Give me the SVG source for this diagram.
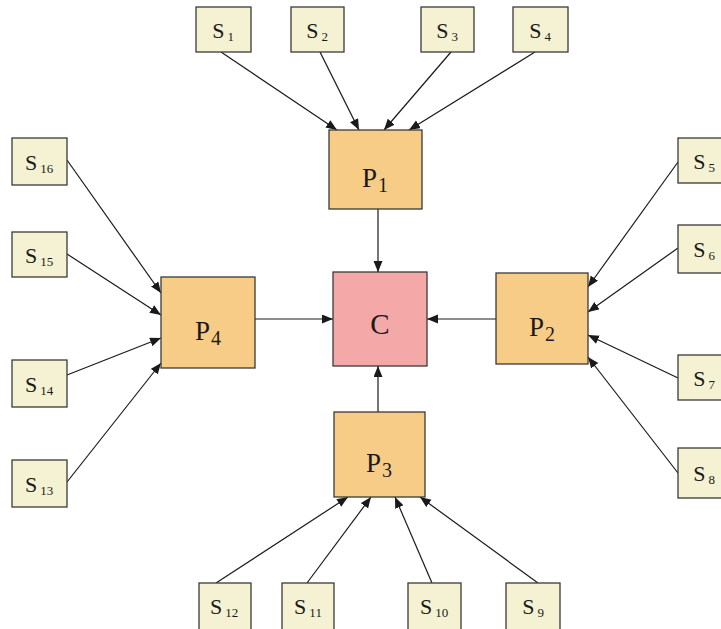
<svg xmlns="http://www.w3.org/2000/svg" width="721" height="629" viewBox="0 0 721 629">
  <style>
    .s rect { fill: #F4F2D2; stroke: #3a3a3a; stroke-width: 1.3; }
    .p rect { fill: #F7CC87; stroke: #3a3a3a; stroke-width: 1.3; }
    .c rect { fill: #F4A9A8; stroke: #3a3a3a; stroke-width: 1.3; }
    text { font-family: "Liberation Serif", "Times New Roman", serif; fill: #1a1a1a; text-anchor: middle; }
    .s text { font-size: 22px; }
    .s .sub { font-size: 13px; }
    .p text { font-size: 27px; }
    .p .sub { font-size: 20px; }
    .c text { font-size: 29px; }
    #connectors line { stroke: #1a1a1a; stroke-width: 1.2; marker-end: url(#arrow); }
  </style>
  <defs>
    <marker id="arrow" markerUnits="userSpaceOnUse" markerWidth="12" markerHeight="10" refX="11" refY="4.5" orient="auto">
      <path d="M0,0 L11,4.5 L0,9 z" fill="#1a1a1a"/>
    </marker>
  </defs>

  <g id="connectors">
    <!-- S1..S4 into P1 -->
    <line x1="221" y1="52" x2="337" y2="130"/>
    <line x1="320" y1="52" x2="359" y2="130"/>
    <line x1="451" y1="52" x2="384" y2="130"/>
    <line x1="535" y1="52" x2="409" y2="130"/>
    <!-- S5..S8 into P2 -->
    <line x1="678" y1="162" x2="588" y2="287"/>
    <line x1="678" y1="248" x2="588" y2="312"/>
    <line x1="678" y1="378" x2="588" y2="335"/>
    <line x1="678" y1="473" x2="588" y2="357"/>
    <!-- S9..S12 into P3 -->
    <line x1="538" y1="583" x2="420" y2="497"/>
    <line x1="432" y1="583" x2="395" y2="497"/>
    <line x1="307" y1="583" x2="371" y2="497"/>
    <line x1="216" y1="583" x2="348" y2="497"/>
    <!-- S13..S16 into P4 -->
    <line x1="67" y1="482" x2="161" y2="363"/>
    <line x1="67" y1="375" x2="161" y2="338"/>
    <line x1="67" y1="254" x2="161" y2="315"/>
    <line x1="67" y1="160" x2="161" y2="293"/>
    <!-- P1..P4 into C -->
    <line x1="378" y1="209" x2="378" y2="272"/>
    <line x1="496" y1="319" x2="427" y2="319"/>
    <line x1="378" y1="412" x2="378" y2="366"/>
    <line x1="255" y1="319" x2="333" y2="319"/>
  </g>

  <!-- central node -->
  <g id="C" class="c">
    <rect x="333" y="272" width="94" height="94"/>
    <text x="380" y="334">C</text>
  </g>

  <!-- P nodes -->
  <g id="P1" class="p">
    <rect x="329" y="130" width="93" height="79"/>
    <text x="375" y="187">P<tspan class="sub" dx="1" dy="5">1</tspan></text>
  </g>
  <g id="P2" class="p">
    <rect x="496" y="273" width="92" height="91"/>
    <text x="542" y="336">P<tspan class="sub" dx="1" dy="5">2</tspan></text>
  </g>
  <g id="P3" class="p">
    <rect x="334" y="412" width="91" height="85"/>
    <text x="379" y="472">P<tspan class="sub" dx="1" dy="5">3</tspan></text>
  </g>
  <g id="P4" class="p">
    <rect x="161" y="277" width="94" height="91"/>
    <text x="208" y="340">P<tspan class="sub" dx="1" dy="5">4</tspan></text>
  </g>

  <!-- S nodes, top row -->
  <g id="S1" class="s">
    <rect x="196" y="7" width="55" height="45"/>
    <text x="223" y="38">S<tspan class="sub" dx="3" dy="3">1</tspan></text>
  </g>
  <g id="S2" class="s">
    <rect x="291" y="7" width="53" height="45"/>
    <text x="317" y="38">S<tspan class="sub" dx="3" dy="3">2</tspan></text>
  </g>
  <g id="S3" class="s">
    <rect x="421" y="7" width="53" height="45"/>
    <text x="447" y="38">S<tspan class="sub" dx="3" dy="3">3</tspan></text>
  </g>
  <g id="S4" class="s">
    <rect x="513" y="7" width="55" height="45"/>
    <text x="540" y="38">S<tspan class="sub" dx="3" dy="3">4</tspan></text>
  </g>

  <!-- S nodes, right column -->
  <g id="S5" class="s">
    <rect x="678" y="138" width="56" height="45"/>
    <text x="704" y="169">S<tspan class="sub" dx="3" dy="3">5</tspan></text>
  </g>
  <g id="S6" class="s">
    <rect x="678" y="225" width="56" height="48"/>
    <text x="704" y="257">S<tspan class="sub" dx="3" dy="3">6</tspan></text>
  </g>
  <g id="S7" class="s">
    <rect x="678" y="355" width="56" height="45"/>
    <text x="704" y="386">S<tspan class="sub" dx="3" dy="3">7</tspan></text>
  </g>
  <g id="S8" class="s">
    <rect x="678" y="448" width="56" height="50"/>
    <text x="704" y="481">S<tspan class="sub" dx="3" dy="3">8</tspan></text>
  </g>

  <!-- S nodes, bottom row -->
  <g id="S9" class="s">
    <rect x="506" y="583" width="54" height="50"/>
    <text x="533" y="614">S<tspan class="sub" dx="3" dy="3">9</tspan></text>
  </g>
  <g id="S10" class="s">
    <rect x="408" y="583" width="53" height="50"/>
    <text x="434" y="614">S<tspan class="sub" dx="3" dy="3">10</tspan></text>
  </g>
  <g id="S11" class="s">
    <rect x="282" y="583" width="52" height="50"/>
    <text x="308" y="614">S<tspan class="sub" dx="3" dy="3">11</tspan></text>
  </g>
  <g id="S12" class="s">
    <rect x="199" y="583" width="52" height="50"/>
    <text x="224" y="614">S<tspan class="sub" dx="3" dy="3">12</tspan></text>
  </g>

  <!-- S nodes, left column -->
  <g id="S13" class="s">
    <rect x="12" y="460" width="55" height="47"/>
    <text x="39" y="492">S<tspan class="sub" dx="3" dy="3">13</tspan></text>
  </g>
  <g id="S14" class="s">
    <rect x="12" y="360" width="55" height="47"/>
    <text x="39" y="392">S<tspan class="sub" dx="3" dy="3">14</tspan></text>
  </g>
  <g id="S15" class="s">
    <rect x="12" y="232" width="55" height="45"/>
    <text x="39" y="263">S<tspan class="sub" dx="3" dy="3">15</tspan></text>
  </g>
  <g id="S16" class="s">
    <rect x="12" y="138" width="55" height="47"/>
    <text x="39" y="170">S<tspan class="sub" dx="3" dy="3">16</tspan></text>
  </g>
</svg>
